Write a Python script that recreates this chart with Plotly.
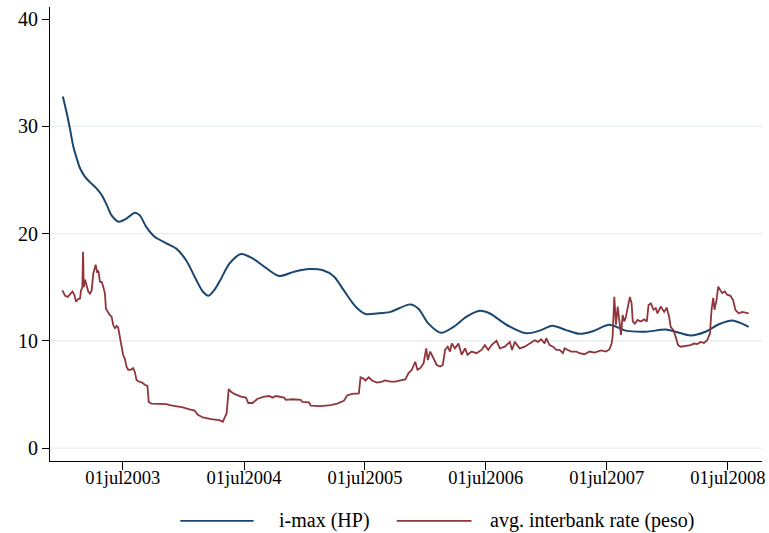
import pandas as pd
import plotly.graph_objects as go

# ---- data (decimal years, values in percent) ----
imax_year = [2003.004, 2003.037, 2003.064, 2003.091, 2003.119, 2003.146, 2003.187, 2003.228,
             2003.284, 2003.325, 2003.366, 2003.407, 2003.467, 2003.530, 2003.599, 2003.640,
             2003.695, 2003.763, 2003.860, 2003.942, 2004.024, 2004.106, 2004.161, 2004.208,
             2004.257, 2004.312, 2004.381, 2004.477, 2004.572,
             2004.683, 2004.792, 2004.916, 2005.039, 2005.149, 2005.245, 2005.327, 2005.423,
             2005.506, 2005.601, 2005.712, 2005.876, 2005.944, 2006.027, 2006.131, 2006.233,
             2006.342, 2006.452, 2006.535, 2006.671, 2006.836, 2006.946, 2007.050, 2007.165,
             2007.275, 2007.385, 2007.522, 2007.659, 2007.823, 2007.988, 2008.070, 2008.194,
             2008.317, 2008.428, 2008.537, 2008.619, 2008.674]
imax_val = [32.8, 31.2, 29.7, 28.1, 27.0, 26.1, 25.3, 24.8,
            24.2, 23.6, 22.7, 21.7, 21.1, 21.4, 21.95, 21.7,
            20.6, 19.7, 19.1, 18.6, 17.5, 15.7, 14.6, 14.2,
            14.75, 15.8, 17.2, 18.1, 17.7,
            16.8, 16.05, 16.45, 16.7, 16.6, 16.0, 14.7, 13.2,
            12.5, 12.55, 12.7, 13.4, 13.0, 11.6, 10.75, 11.3,
            12.25, 12.8, 12.55, 11.5, 10.7, 10.95, 11.4, 11.0,
            10.65, 10.9, 11.5, 10.95, 10.85, 11.05, 10.85, 10.5,
            10.85, 11.55, 11.9, 11.6, 11.3]

ib_year = [2003.000, 2003.023, 2003.045, 2003.064, 2003.083, 2003.099, 2003.113, 2003.132,
           2003.146, 2003.154, 2003.165, 2003.171, 2003.177, 2003.187, 2003.201, 2003.214,
           2003.228, 2003.242, 2003.256, 2003.275, 2003.286, 2003.297, 2003.311, 2003.325,
           2003.338, 2003.352, 2003.360, 2003.374, 2003.393, 2003.407, 2003.420, 2003.434,
           2003.448, 2003.461, 2003.475, 2003.489, 2003.502, 2003.516, 2003.530, 2003.544,
           2003.566, 2003.585, 2003.599, 2003.613, 2003.632, 2003.659, 2003.681, 2003.703,
           2003.714, 2003.736, 2003.791, 2003.860, 2003.887, 2003.955, 2003.996, 2004.051,
           2004.093, 2004.120, 2004.161, 2004.230, 2004.298, 2004.326, 2004.345, 2004.358,
           2004.375, 2004.395, 2004.422, 2004.477, 2004.518, 2004.537, 2004.572, 2004.614,
           2004.669, 2004.710, 2004.737, 2004.765, 2004.833, 2004.847, 2004.902, 2004.971,
           2004.984, 2005.039, 2005.053, 2005.135, 2005.218, 2005.272, 2005.327, 2005.354,
           2005.395, 2005.451, 2005.465, 2005.486, 2005.506, 2005.533, 2005.560, 2005.601,
           2005.642, 2005.670, 2005.712, 2005.753, 2005.794, 2005.835, 2005.862, 2005.889,
           2005.917, 2005.936, 2005.958, 2005.986, 2006.008, 2006.021, 2006.041, 2006.068,
           2006.095, 2006.123, 2006.145, 2006.164, 2006.186, 2006.205, 2006.219, 2006.246,
           2006.274, 2006.301, 2006.329, 2006.350, 2006.383, 2006.424, 2006.465, 2006.493,
           2006.521, 2006.548, 2006.589, 2006.617, 2006.658, 2006.699, 2006.718, 2006.740,
           2006.781, 2006.823, 2006.864, 2006.905, 2006.932, 2006.959, 2006.987, 2007.000,
           2007.028, 2007.056, 2007.083, 2007.111, 2007.138, 2007.152, 2007.179, 2007.206,
           2007.247, 2007.275, 2007.316, 2007.358, 2007.399, 2007.453, 2007.494, 2007.522,
           2007.541, 2007.549, 2007.563, 2007.577, 2007.591, 2007.605, 2007.618, 2007.632,
           2007.646, 2007.659, 2007.673, 2007.692, 2007.706, 2007.716, 2007.733, 2007.755,
           2007.782, 2007.810, 2007.832, 2007.846, 2007.865, 2007.887, 2007.906, 2007.920,
           2007.947, 2007.975, 2007.996, 2008.016, 2008.029, 2008.051, 2008.070, 2008.090,
           2008.112, 2008.153, 2008.194, 2008.222, 2008.249, 2008.276, 2008.304, 2008.331,
           2008.354, 2008.367, 2008.381, 2008.391, 2008.408, 2008.422, 2008.436, 2008.455,
           2008.477, 2008.496, 2008.523, 2008.545, 2008.564, 2008.592, 2008.619, 2008.646,
           2008.674]
ib_val = [14.7, 14.2, 14.1, 14.4, 14.6, 14.3, 13.65, 13.9,
          13.95, 14.7, 15.0, 18.3, 15.0, 15.7, 15.05, 14.6,
          14.4, 14.7, 16.3, 17.1, 16.45, 16.55, 15.5, 15.5,
          15.05, 14.4, 13.0, 12.7, 12.4, 12.25, 11.5, 11.15,
          11.4, 11.25, 10.4, 9.75, 8.7, 8.35, 7.6, 7.3,
          7.3, 7.45, 7.1, 6.35, 6.2, 6.1, 5.9, 5.8,
          4.3, 4.15, 4.15, 4.1, 4.0, 3.9, 3.8, 3.6,
          3.5, 3.1, 2.85, 2.7, 2.6, 2.45, 2.9, 3.25,
          5.5, 5.25, 5.05, 4.8, 4.7, 4.2, 4.2, 4.6,
          4.8, 4.85, 4.7, 4.85, 4.7, 4.5, 4.55, 4.5,
          4.3, 4.25, 3.95, 3.9, 4.0, 4.15, 4.4, 4.9,
          5.05, 5.1, 6.6, 6.5, 6.3, 6.6, 6.3, 6.1,
          6.2, 6.3, 6.2, 6.2, 6.3, 6.4, 7.0, 7.3,
          8.05, 7.3, 7.45, 7.9, 9.3, 8.2, 9.0, 8.3,
          7.75, 7.6, 7.75, 9.15, 9.45, 9.0, 9.75, 9.3,
          9.75, 8.7, 9.3, 8.7, 9.0, 8.85, 9.15, 9.6,
          9.15, 9.6, 10.0, 9.3, 9.45, 9.9, 9.15, 9.9,
          9.3, 9.45, 9.75, 10.05, 9.9, 10.15, 9.75, 10.25,
          9.6, 9.45, 9.15, 9.15, 8.85, 9.3, 9.15, 9.0,
          9.0, 8.85, 8.75, 9.0, 8.9, 9.1, 9.0, 9.2,
          9.75, 10.4, 14.1, 11.5, 13.2, 11.95, 10.55, 12.4,
          11.8, 12.25, 13.2, 14.1, 13.5, 11.8, 11.6, 11.95,
          11.8, 12.0, 11.8, 13.35, 13.5, 12.9, 13.05, 12.55,
          13.2, 12.7, 13.1, 12.25, 11.3, 11.0, 10.4, 9.6,
          9.45, 9.5, 9.6, 9.75, 9.7, 9.9, 9.8, 10.05,
          10.7, 12.9, 14.0, 12.9, 13.8, 15.05, 14.75, 14.45,
          14.6, 14.3, 14.2, 13.8, 12.9, 12.55, 12.7, 12.6,
          12.55]

tick_dates = ["2003-07-01", "2004-07-01", "2005-07-01", "2006-07-01", "2007-07-01", "2008-07-01"]
tick_labels = ["01jul2003", "01jul2004", "01jul2005", "01jul2006", "01jul2007", "01jul2008"]
y_ticks = [0, 10, 20, 30, 40]
grid_vals = [0, 10, 20, 30]
legend_names = ["i-max (HP)", "avg. interbank rate (peso)"]

BLUE = "#1a476f"
RED = "#90353b"
FONT = "Liberation Serif"


def to_date(years):
    base = pd.Timestamp("2003-07-01")
    return [base + pd.Timedelta(days=(y - 2003.5) * 365.25) for y in years]


fig = go.Figure()
fig.add_trace(go.Scatter(x=to_date(imax_year), y=imax_val, mode="lines",
                         line=dict(color=BLUE, width=2, shape="spline", smoothing=0.8),
                         name=legend_names[0], showlegend=False))
fig.add_trace(go.Scatter(x=to_date(ib_year), y=ib_val, mode="lines",
                         line=dict(color=RED, width=1.8),
                         name=legend_names[1], showlegend=False))

shapes = []
for g in grid_vals:
    shapes.append(dict(type="line", xref="paper", yref="y", x0=0, x1=1, y0=g, y1=g,
                       line=dict(color="#e4eced", width=1.2), layer="below"))
# custom legend (Stata-like long line samples)
shapes.append(dict(type="line", xref="paper", yref="paper", x0=0.183, x1=0.286,
                   y0=-0.132, y1=-0.132, line=dict(color=BLUE, width=1.7)))
shapes.append(dict(type="line", xref="paper", yref="paper", x0=0.487, x1=0.592,
                   y0=-0.132, y1=-0.132, line=dict(color=RED, width=1.7)))

annotations = [
    dict(text=legend_names[0], xref="paper", yref="paper", x=0.319, y=-0.132,
         xanchor="left", yanchor="middle", showarrow=False,
         font=dict(family=FONT, size=20, color="#000")),
    dict(text=legend_names[1], xref="paper", yref="paper", x=0.615, y=-0.132,
         xanchor="left", yanchor="middle", showarrow=False,
         font=dict(family=FONT, size=20, color="#000")),
]

fig.update_layout(
    width=769, height=533,
    margin=dict(l=50, r=4, t=7, b=72),
    paper_bgcolor="white", plot_bgcolor="white",
    font=dict(family=FONT, size=20, color="#000"),
    shapes=shapes, annotations=annotations,
    showlegend=False,
)
fig.update_xaxes(
    type="date",
    range=[pd.Timestamp("2002-11-23"), pd.Timestamp("2008-10-12")],
    tickvals=[pd.Timestamp(d) for d in tick_dates], ticktext=tick_labels,
    ticks="outside", ticklen=8, tickcolor="#000", tickwidth=1,
    showline=True, linecolor="#000", linewidth=1, showgrid=False, zeroline=False,
    tickfont=dict(family=FONT, size=18.5), ticklabeloverflow="allow",
    ticklabelstandoff=-8,
)
fig.update_yaxes(
    range=[-1.21, 41.14],
    tickvals=y_ticks, ticktext=[str(v) for v in y_ticks],
    ticks="outside", ticklen=7, tickcolor="#000", tickwidth=1,
    showline=True, linecolor="#000", linewidth=1, showgrid=False, zeroline=False,
    tickfont=dict(family=FONT, size=20),
)

fig.write_html(
    "out.html",
    config={"displayModeBar": False},
    post_script="document.body.style.margin='0';document.body.style.overflow='hidden';",
)
